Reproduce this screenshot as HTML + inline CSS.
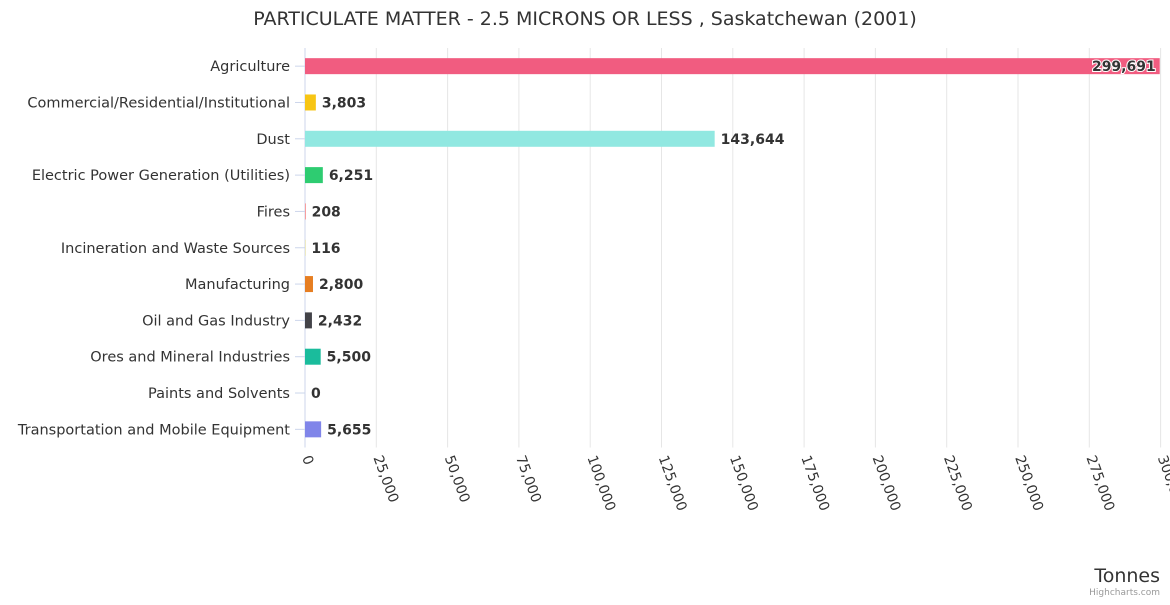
<!DOCTYPE html>
<html><head><meta charset="utf-8"><style>
body{margin:0;background:#fff;font-family:"Liberation Sans","DejaVu Sans",sans-serif;}
svg text{font-family:"DejaVu Sans","Liberation Sans",sans-serif;}
</style></head><body>
<svg id="chart" width="1170" height="600">
<text x="585" y="25" text-anchor="middle" font-size="19" fill="#333">PARTICULATE MATTER - 2.5 MICRONS OR LESS , Saskatchewan (2001)</text>
<g id="grid"></g><g id="bars"></g><g id="labels"></g>
<text x="1160" y="582" text-anchor="end" font-size="19" fill="#333">Tonnes</text>
<text x="1160" y="595" text-anchor="end" font-size="9" fill="#999">Highcharts.com</text>
</svg>
<script>
const categories=["Agriculture","Commercial/Residential/Institutional","Dust","Electric Power Generation (Utilities)","Fires","Incineration and Waste Sources","Manufacturing","Oil and Gas Industry","Ores and Mineral Industries","Paints and Solvents","Transportation and Mobile Equipment"];
const values=[299691,3803,143644,6251,208,116,2800,2432,5500,0,5655];
const ticks=[0,25000,50000,75000,100000,125000,150000,175000,200000,225000,250000,275000,300000];
const colors=["#f15c80","#f7c514","#91e8e1","#2ecc71","#f45b5b","#e4d354","#e67e22","#434348","#1abc9c","#8d4653","#8085e9"];
const NS="http://www.w3.org/2000/svg";
const x0=305,x1=1160.6,yTop=48,yBot=447.5,xMax=300000;
const band=(yBot-yTop)/categories.length;
function xs(v){return x0+(v/xMax)*(x1-x0);}
function yc(i){return yTop+band*(i+0.5);}
function mk(t,a,p){const e=document.createElementNS(NS,t);for(const k in a)e.setAttribute(k,a[k]);p.appendChild(e);return e;}
const grid=document.getElementById('grid'),bars=document.getElementById('bars'),labels=document.getElementById('labels');
ticks.forEach(t=>{
 const x=xs(t);
 const l=mk('line',{x1:x,x2:x,y1:yTop,y2:yBot,stroke:t===0?'#ccd6eb':'#e6e6e6','stroke-width':1},grid);
 
 
 const tx=mk('text',{x:x-3,y:yBot+10,'font-size':14,fill:'#333',transform:`rotate(70 ${x-3} ${yBot+10})`},labels);
 tx.textContent=t.toLocaleString('en-US');
 
 
});
categories.forEach((c,i)=>{
 const y=yc(i);
 const tk=mk('line',{x1:x0-10,x2:x0,y1:y,y2:y,stroke:'#ccd6eb'},grid);
 
 
 const t=mk('text',{x:290,y:y+5,'text-anchor':'end','font-size':14.5,fill:'#333'},labels);
 t.textContent=c;
 
 
 const w=xs(values[i])-x0;
 const r=mk('rect',{x:x0,y:y-8,width:Math.max(w,0),height:16,fill:colors[i]},bars);
 
 
 const inside=w>800;
 const v=mk('text',{x:inside?x0+w-4:x0+w+6,y:y+5,'text-anchor':inside?'end':'start','font-size':14,'font-weight':'bold',fill:'#333',stroke:'#fff','stroke-width':inside?2:0,'paint-order':'stroke'},labels);
 v.textContent=values[i].toLocaleString('en-US');
 
 
});
</script>
</body></html>
